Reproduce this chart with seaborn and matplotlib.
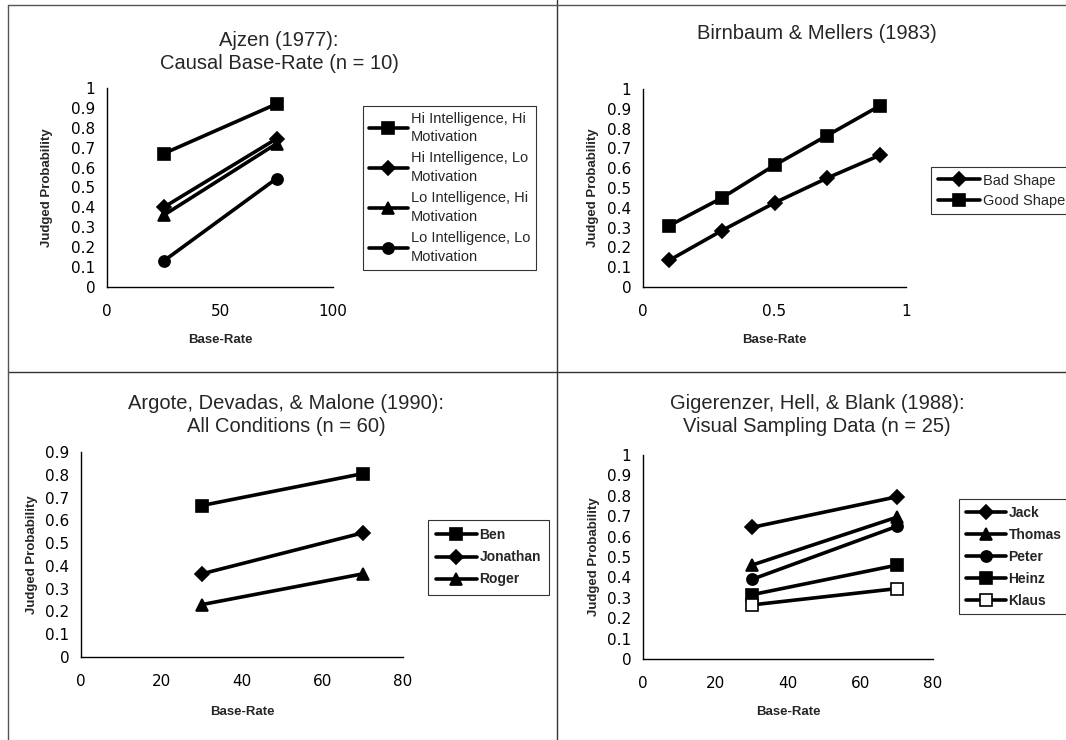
import seaborn as sns
import matplotlib.pyplot as plt
from matplotlib.lines import Line2D
from matplotlib.ticker import FuncFormatter

# Ajzen (1977)
ajzen_x = [25, 75]
ajzen_hi_hi = [0.67, 0.92]
ajzen_hi_lo = [0.40, 0.745]
ajzen_lo_hi = [0.36, 0.72]
ajzen_lo_lo = [0.13, 0.545]

# Birnbaum & Mellers (1983)
bm_x = [0.1, 0.3, 0.5, 0.7, 0.9]
bm_bad = [0.135, 0.285, 0.425, 0.55, 0.665]
bm_good = [0.31, 0.45, 0.615, 0.765, 0.915]

# Argote, Devadas & Malone (1990)
adm_x = [30, 70]
adm_ben = [0.665, 0.805]
adm_jonathan = [0.365, 0.545]
adm_roger = [0.23, 0.365]

# Gigerenzer, Hell & Blank (1988)
ghb_x = [30, 70]
ghb_jack = [0.645, 0.795]
ghb_thomas = [0.46, 0.695]
ghb_peter = [0.39, 0.65]
ghb_heinz = [0.315, 0.46]
ghb_klaus = [0.265, 0.345]

sns.set_style("white")
plt.rcParams['font.family'] = ['Liberation Sans', 'DejaVu Sans']

W, H = 1066, 740
fig = plt.figure(figsize=(W / 100, H / 100), dpi=100)


def add_panel(l, t, r, b):
    ax = fig.add_axes([l / W, 1 - b / H, (r - l) / W, (b - t) / H])
    return ax


def style_axes(ax, xlim, xticks, ylim, yticks, l, t, r, b, ylab_x, xlab_y):
    ax.set_xlim(*xlim)
    ax.set_ylim(*ylim)
    ax.set_xticks(xticks)
    ax.set_yticks(yticks)
    fmt = FuncFormatter(lambda v, p: f"{v:g}")
    ax.xaxis.set_major_formatter(fmt)
    ax.yaxis.set_major_formatter(fmt)
    for s in ['top', 'right']:
        ax.spines[s].set_visible(False)
    for s in ['left', 'bottom']:
        ax.spines[s].set_color('black')
        ax.spines[s].set_linewidth(1)
    ax.tick_params(axis='both', direction='inout', length=7, width=1,
                   colors='black', labelsize=11)
    ax.tick_params(axis='y', pad=5)
    ax.tick_params(axis='x', pad=9)
    for lab in ax.get_xticklabels() + ax.get_yticklabels():
        lab.set_family('DejaVu Sans')
    ax.set_xlabel('Base-Rate', fontsize=9.5, fontweight='bold')
    ax.set_ylabel('Judged Probability', fontsize=9.5, fontweight='bold')
    ax.yaxis.set_label_coords((ylab_x - l) / (r - l), 0.5)
    ax.xaxis.set_label_coords(0.5, -(xlab_y - b) / (b - t))
    ax.grid(False)


def series(ax, x, y, marker, ms, label, face='black'):
    sns.lineplot(x=x, y=y, ax=ax, color='black', marker=marker, markersize=ms,
                 markerfacecolor=face, markeredgecolor='black', markeredgewidth=1.2,
                 linewidth=2.6, label=label, legend=False)


def legend(ax, x, y, size, weight, hl, spacing, pad, lsp=None):
    leg = ax.legend(loc='upper left', bbox_to_anchor=(x / W, 1 - y / H),
                    bbox_transform=fig.transFigure, frameon=True, fancybox=False,
                    edgecolor='black', handlelength=hl, handletextpad=0.2,
                    borderpad=pad, labelspacing=spacing, borderaxespad=0,
                    prop={'size': size, 'weight': weight})
    leg.get_frame().set_linewidth(0.8)
    if lsp:
        for txt in leg.get_texts():
            txt.set_linespacing(lsp)
    return leg


yt10 = [i / 10 for i in range(11)]
yt9 = [i / 10 for i in range(10)]

# Panel 1
l, t, r, b = 107, 88, 333, 287
ax1 = add_panel(l, t, r, b)
series(ax1, ajzen_x, ajzen_hi_hi, 's', 9, 'Hi Intelligence, Hi\nMotivation')
series(ax1, ajzen_x, ajzen_hi_lo, 'D', 7.5, 'Hi Intelligence, Lo\nMotivation')
series(ax1, ajzen_x, ajzen_lo_hi, '^', 9, 'Lo Intelligence, Hi\nMotivation')
series(ax1, ajzen_x, ajzen_lo_lo, 'o', 8, 'Lo Intelligence, Lo\nMotivation')
style_axes(ax1, (0, 100), [0, 50, 100], (0, 1), yt10, l, t, r, b, 53, 334)
legend(ax1, 363, 106, 10.5, 'normal', 2.7, 0.48, 0.38, lsp=1.45)
fig.text(279, H - 31, 'Ajzen (1977):\nCausal Base-Rate (n = 10)', transform=None,
         ha='center', va='top', fontsize=14.5, linespacing=1.25)

# Panel 2
l, t, r, b = 643, 89, 906, 287
ax2 = add_panel(l, t, r, b)
series(ax2, bm_x, bm_bad, 'D', 7.5, 'Bad Shape')
series(ax2, bm_x, bm_good, 's', 9, 'Good Shape')
style_axes(ax2, (0, 1), [0, 0.5, 1], (0, 1), yt10, l, t, r, b, 599, 334)
legend(ax2, 931, 167, 10.5, 'normal', 2.9, 0.42, 0.45)
fig.text(817, H - 24, 'Birnbaum & Mellers (1983)', transform=None,
         ha='center', va='top', fontsize=14.5)

# Panel 3
l, t, r, b = 81, 452, 403, 657
ax3 = add_panel(l, t, r, b)
series(ax3, adm_x, adm_ben, 's', 9, 'Ben')
series(ax3, adm_x, adm_jonathan, 'D', 7.5, 'Jonathan')
series(ax3, adm_x, adm_roger, '^', 9, 'Roger')
style_axes(ax3, (0, 80), [0, 20, 40, 60, 80], (0, 0.9), yt9, l, t, r, b, 38, 706)
legend(ax3, 428, 520, 10, 'bold', 2.9, 0.58, 0.6)
fig.text(286, H - 394, 'Argote, Devadas, & Malone (1990):\nAll Conditions (n = 60)',
         transform=None, ha='center', va='top', fontsize=14.5, linespacing=1.25)

# Panel 4
l, t, r, b = 643, 455, 933, 659
ax4 = add_panel(l, t, r, b)
series(ax4, ghb_x, ghb_jack, 'D', 7.5, 'Jack')
series(ax4, ghb_x, ghb_thomas, '^', 9, 'Thomas')
series(ax4, ghb_x, ghb_peter, 'o', 8, 'Peter')
series(ax4, ghb_x, ghb_heinz, 's', 9, 'Heinz')
series(ax4, ghb_x, ghb_klaus, 's', 9, 'Klaus', face='white')
style_axes(ax4, (0, 80), [0, 20, 40, 60, 80], (0, 1), yt10, l, t, r, b, 600, 706)
legend(ax4, 959, 499, 10, 'bold', 2.9, 0.58, 0.47)
fig.text(817, H - 394, 'Gigerenzer, Hell, & Blank (1988):\nVisual Sampling Data (n = 25)',
         transform=None, ha='center', va='top', fontsize=14.5, linespacing=1.25)

# panel borders
def fline(x0, y0, x1, y1, lw=1.0, c='#333333'):
    fig.add_artist(Line2D([x0 / W, x1 / W], [1 - y0 / H, 1 - y1 / H],
                          transform=fig.transFigure, color=c, linewidth=lw))

fline(557, 0, 557, 740)
fline(8, 372, 1066, 372)
fline(8, 5, 1066, 5, c='#555555')
fline(8, 5, 8, 740, c='#555555')

fig.savefig('out.png', dpi=100)
